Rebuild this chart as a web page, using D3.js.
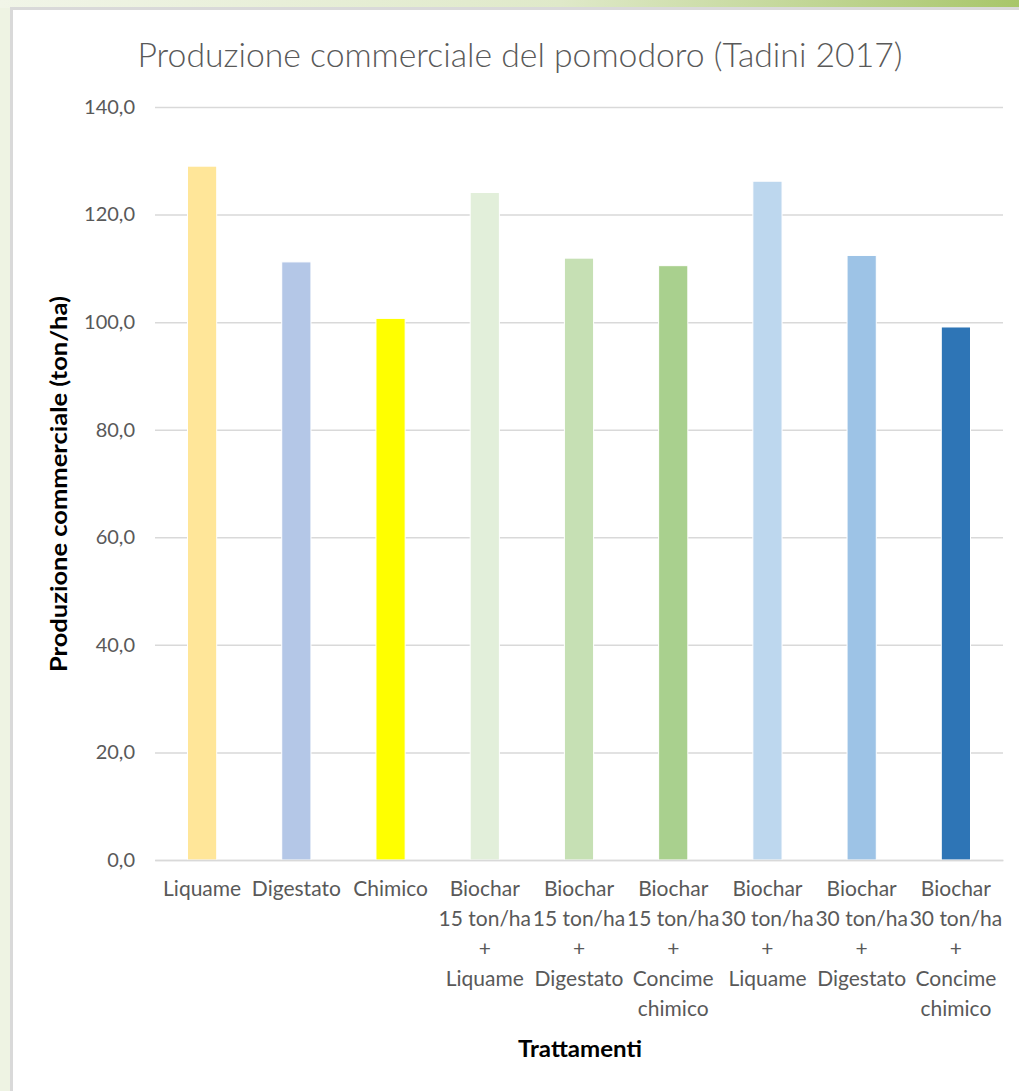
<!DOCTYPE html>
<html><head><meta charset="utf-8">
<script src="https://cdn.jsdelivr.net/npm/d3@7"></script>
<style>
html,body{margin:0;padding:0;background:#fff;}
svg{display:block;}
</style></head>
<body>
<script>
const categories = [
  ["Liquame"],
  ["Digestato"],
  ["Chimico"],
  ["Biochar","15 ton/ha","+","Liquame"],
  ["Biochar","15 ton/ha","+","Digestato"],
  ["Biochar","15 ton/ha","+","Concime","chimico"],
  ["Biochar","30 ton/ha","+","Liquame"],
  ["Biochar","30 ton/ha","+","Digestato"],
  ["Biochar","30 ton/ha","+","Concime","chimico"]
];
const values = [129.0, 111.2, 100.7, 124.1, 111.9, 110.5, 126.2, 112.4, 99.1];
const barColors = ["#FFE699","#B4C7E7","#FFFF00","#E2EFDA","#C6E0B4","#A9D08E","#BDD7EE","#9DC3E6","#2E75B6"];
const yTicks = [0,20,40,60,80,100,120,140];
const title = "Produzione commerciale del pomodoro (Tadini 2017)";
const yTitle = "Produzione commerciale (ton/ha)";
const xTitle = "Trattamenti";

const W = 1019, H = 1091;
const font = "Lato, 'Open Sans', sans-serif";
const svg = d3.select("body").append("svg").attr("width", W).attr("height", H);

// background
const defs = svg.append("defs");
const gTop = defs.append("linearGradient").attr("id","gtop").attr("x1","0").attr("x2","1").attr("y1","0").attr("y2","0");
gTop.append("stop").attr("offset","0").attr("stop-color","#f1f5e8");
gTop.append("stop").attr("offset","0.55").attr("stop-color","#dfe9c9");
gTop.append("stop").attr("offset","1").attr("stop-color","#a8c66a");
svg.append("rect").attr("width",W).attr("height",H).attr("fill","#eef3e3");
svg.append("rect").attr("width",W).attr("height",8).attr("fill","url(#gtop)");
// chart panel
svg.append("rect").attr("x",11.5).attr("y",8.5).attr("width",W).attr("height",H)
  .attr("fill","#fff").attr("stroke","#d9d9d9").attr("stroke-width",3);

const m = {left:155, right:1003, top:107, bottom:860};
const x = d3.scaleBand().domain(d3.range(categories.length)).range([m.left, m.right]).paddingInner(0.69).paddingOuter(0.345);
const y = d3.scaleLinear().domain([0,140]).range([m.bottom, m.top]);

// gridlines
const yAxis = d3.axisLeft(y).tickValues(yTicks).tickSize(-(m.right-m.left)).tickPadding(20)
  .tickFormat(d => d3.format(".1f")(d).replace(".", ","));
const gy = svg.append("g").attr("transform",`translate(${m.left},0)`).call(yAxis);
gy.select(".domain").remove();
gy.selectAll(".tick line").attr("stroke","#d9d9d9").attr("stroke-width",1.5);
gy.selectAll(".tick text").attr("fill","#595959").style("font-family",font).style("font-size","20px");

// bars
svg.append("g").selectAll("rect").data(values).join("rect")
  .attr("x",(d,i)=>x(i)).attr("width",x.bandwidth())
  .attr("y",d=>y(d)).attr("height",d=>y(0)-y(d))
  .attr("fill",(d,i)=>barColors[i]).attr("stroke","#fff").attr("stroke-width",1);

// x axis
const xAxis = d3.axisBottom(x).tickSize(0).tickFormat("");
const gx = svg.append("g").attr("transform",`translate(0,${m.bottom})`).call(xAxis);
gx.select(".domain").attr("stroke","#d9d9d9").attr("stroke-width",1.5);
gx.selectAll(".tick").each(function(i){
  const t = d3.select(this).append("text").attr("fill","#595959").attr("text-anchor","middle")
    .style("font-family",font).style("font-size","21px");
  categories[i].forEach((line,k)=>{
    t.append("tspan").attr("x",0).attr("y",36 + k*30).text(line);
  });
});

// titles
svg.append("text").attr("x",520).attr("y",67).attr("text-anchor","middle")
  .attr("fill","#595959").style("font-family",font).style("font-size","34px").style("font-weight",300)
  .attr("textLength",765).attr("lengthAdjust","spacingAndGlyphs").text(title);
svg.append("text").attr("transform",`translate(67,484) rotate(-90)`).attr("text-anchor","middle")
  .attr("fill","#000").style("font-family",font).style("font-size","22px").style("font-weight","bold")
  .attr("textLength",376).attr("lengthAdjust","spacingAndGlyphs").text(yTitle);
svg.append("text").attr("x",580).attr("y",1057).attr("text-anchor","middle")
  .attr("fill","#000").style("font-family",font).style("font-size","22px").style("font-weight","bold")
  .attr("textLength",124).attr("lengthAdjust","spacingAndGlyphs").text(xTitle);
</script>
</body></html>
